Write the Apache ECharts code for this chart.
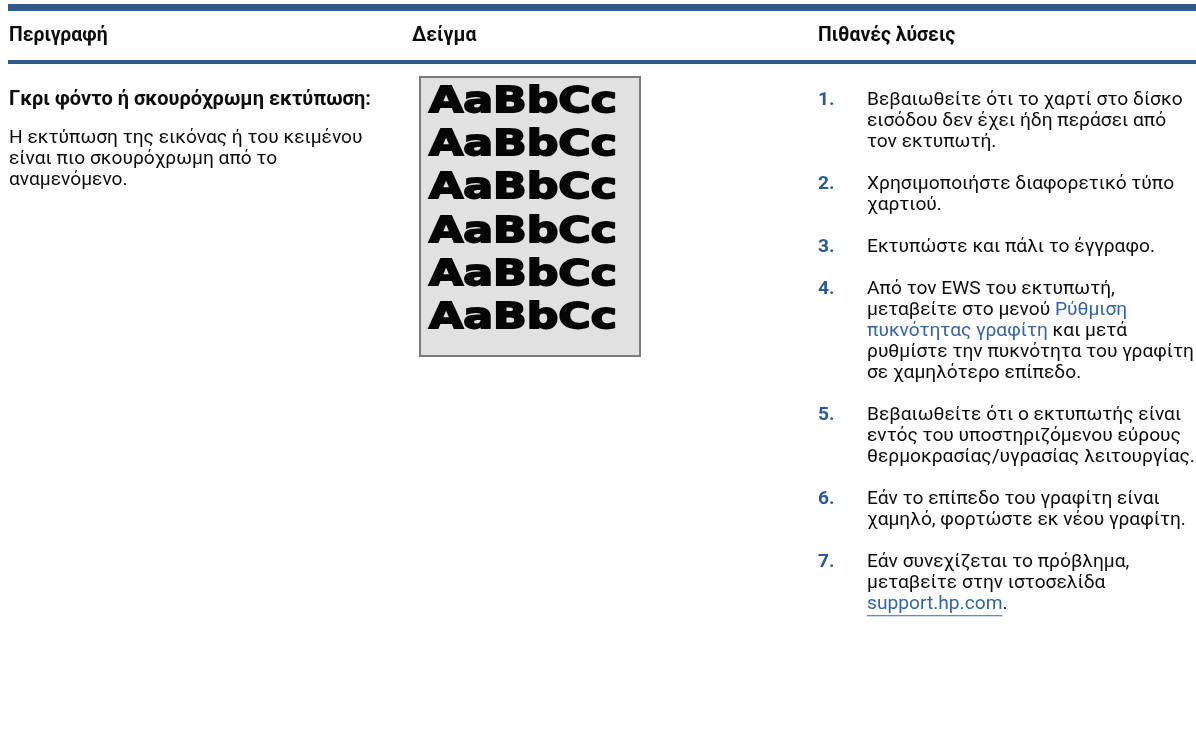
<!DOCTYPE html>
<html><head><meta charset="utf-8">
<script src="https://cdn.jsdelivr.net/npm/echarts@6/dist/echarts.min.js"></script>
<style>html,body{margin:0;padding:0;background:#fff}#c{width:1196px;height:731px}</style>
</head><body><div id="c"></div>
<script>
// ---- content ----
const headers = ['Περιγραφή', 'Δείγμα', 'Πιθανές λύσεις'];
const descTitle = 'Γκρι φόντο ή σκουρόχρωμη εκτύπωση:';
const descLines = [
  'Η εκτύπωση της εικόνας ή του κειμένου',
  'είναι πιο σκουρόχρωμη από το',
  'αναμενόμενο.'
];
const sampleLines = ['AaBbCc', 'AaBbCc', 'AaBbCc', 'AaBbCc', 'AaBbCc', 'AaBbCc'];
const solutionNumbers = ['1.', '2.', '3.', '4.', '5.', '6.', '7.'];
const solutions = [
  ['Βεβαιωθείτε ότι το χαρτί στο δίσκο', 'εισόδου δεν έχει ήδη περάσει από', 'τον εκτυπωτή.'],
  ['Χρησιμοποιήστε διαφορετικό τύπο', 'χαρτιού.'],
  ['Εκτυπώστε και πάλι το έγγραφο.'],
  ['Από τον EWS του εκτυπωτή,', 'μεταβείτε στο μενού {l|Ρύθμιση}', '{l|πυκνότητας γραφίτη} και μετά', 'ρυθμίστε την πυκνότητα του γραφίτη', 'σε χαμηλότερο επίπεδο.'],
  ['Βεβαιωθείτε ότι ο εκτυπωτής είναι', 'εντός του υποστηριζόμενου εύρους', 'θερμοκρασίας/υγρασίας λειτουργίας.'],
  ['Εάν το επίπεδο του γραφίτη είναι', 'χαμηλό, φορτώστε εκ νέου γραφίτη.'],
  ['Εάν συνεχίζεται το πρόβλημα,', 'μεταβείτε στην ιστοσελίδα', '{u|support.hp.com}.']
];
const linkText = 'support.hp.com';

// ---- styling / layout ----
const FAM = 'Roboto';
const BLUE = '#2c5a94';
const LINK = '#3465a4';
const INK = '#0c0c0c';
const ctx = document.createElement('canvas').getContext('2d');
function measure(t, weight, size, fam) { ctx.font = weight + ' ' + size + 'px ' + fam; return ctx.measureText(t).width; }

const bodySize = Math.round(16 * 316 / measure(solutions[0][0], 'normal', 16, FAM) * 10) / 10;
const titleSize = Math.round(16 * 361 / measure(descTitle, 'bold', 16, FAM) * 10) / 10;
const headSize = Math.round(16 * 137 / measure(headers[2], 'bold', 16, FAM) * 10) / 10;

const colX = [9, 412, 818];
const textX3 = 867;
const LH = 21, GAP = 42, firstY = 100;

const g = [];
const base = { align: 'left', verticalAlign: 'middle', textAlign: 'left', textVerticalAlign: 'middle' };
// rules
g.push({ type: 'rect', shape: { x: 8, y: 4, width: 1188, height: 7 }, style: { fill: BLUE }, silent: true });
g.push({ type: 'rect', shape: { x: 8, y: 60, width: 1188, height: 4 }, style: { fill: BLUE }, silent: true });
// headers
headers.forEach((h, i) => g.push({ type: 'text', x: colX[i], y: 36, silent: true,
  style: Object.assign({ text: h, fontFamily: FAM, fontWeight: 'bold', fontSize: headSize, fill: INK }, base) }));
// description
g.push({ type: 'text', x: colX[0], y: firstY, silent: true,
  style: Object.assign({ text: descTitle, fontFamily: FAM, fontWeight: 'bold', fontSize: titleSize, fill: INK }, base) });
descLines.forEach((t, i) => g.push({ type: 'text', x: colX[0], y: 138 + i * LH, silent: true,
  style: Object.assign({ text: t, fontFamily: FAM, fontSize: bodySize, fill: INK }, base) }));
// sample image
g.push({ type: 'rect', shape: { x: 420, y: 77, width: 220, height: 279 }, style: { fill: '#e1e1e1', stroke: '#7c7c7c', lineWidth: 2 }, silent: true });
const sFam = 'DejaVu Sans', sSize = 35;
const sW = measure('AaBbCc', 'bold', sSize, sFam);
const sScale = 188 / sW;
sampleLines.forEach((t, i) => g.push({ type: 'text', x: 429, y: 103 + i * 43.2, scaleX: sScale, silent: true,
  style: Object.assign({ text: t, fontFamily: sFam, fontWeight: 'bold', fontSize: sSize, fill: '#050505', stroke: '#050505', lineWidth: 1.8, lineJoin: 'round' }, base) }));
// solutions
let y = firstY;
const rich = {
  l: { fill: LINK, fontFamily: FAM, fontSize: bodySize },
  u: { fill: LINK, fontFamily: FAM, fontSize: bodySize }
};
solutions.forEach((lines, k) => {
  g.push({ type: 'text', x: colX[2], y: y, silent: true,
    style: Object.assign({ text: solutionNumbers[k], fontFamily: FAM, fontWeight: 'bold', fontSize: bodySize, fill: BLUE }, base) });
  lines.forEach((t, j) => {
    const ly = y + j * LH;
    g.push({ type: 'text', x: textX3, y: ly, silent: true,
      style: Object.assign({ text: t, rich: rich, fontFamily: FAM, fontSize: bodySize, fill: INK }, base) });
    if (t.indexOf('{u|') >= 0) {
      const uw = measure(linkText, 'normal', bodySize, FAM);
      g.push({ type: 'rect', shape: { x: textX3, y: ly + bodySize * 0.58, width: uw, height: 1.2 }, style: { fill: LINK }, silent: true });
    }
  });
  y += (lines.length - 1) * LH + GAP;
});

const chart = echarts.init(document.getElementById('c'), null, { renderer: 'canvas' });
chart.setOption({ backgroundColor: '#ffffff', animation: false, graphic: { elements: g } });
</script>
</body></html>
